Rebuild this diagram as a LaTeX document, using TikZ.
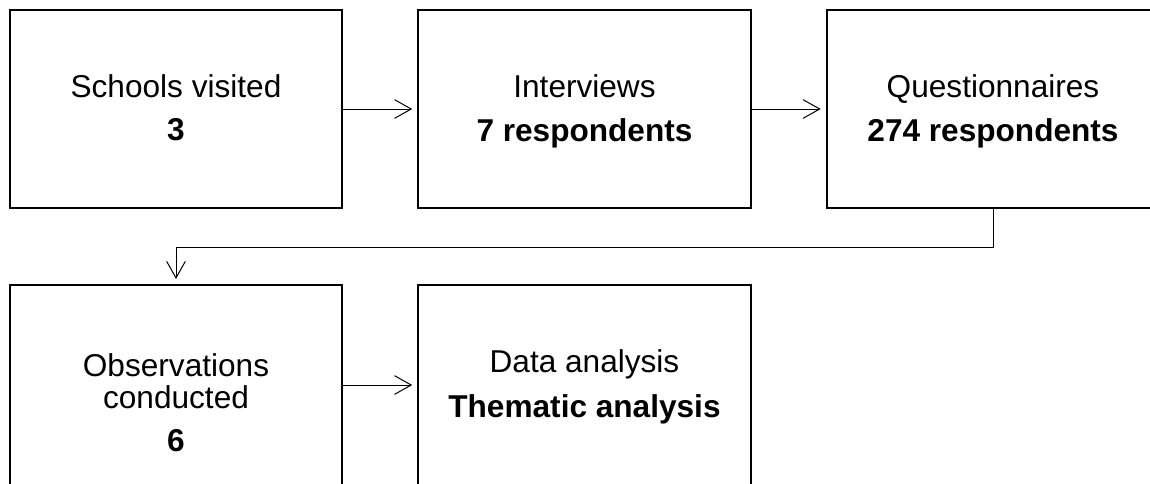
\documentclass[tikz,border=0pt]{standalone}
\usepackage{fontspec}
\setmainfont{Liberation Sans}
\usetikzlibrary{arrows.meta}
\begin{document}
\begin{tikzpicture}[x=0.75pt,y=-0.75pt,
  stepbox/.style={draw,line width=1.5pt,minimum width=249.4pt,inner sep=0pt,outer sep=0pt},
  topbox/.style={stepbox,minimum height=148.5pt},
  botbox/.style={stepbox,minimum height=150pt},
  lab/.style={anchor=base,inner sep=0pt,font=\fontsize{23.7pt}{28pt}\selectfont},
  blab/.style={lab,font=\fontsize{23.7pt}{28pt}\selectfont\bfseries},
  arr/.style={-{Straight Barb[length=12.5pt,width=14pt]},line width=0.75pt,shorten >=4.5pt}]
\useasboundingbox (0,0) rectangle (1150,483);
\clip (0,0) rectangle (1150,483);
\node[topbox] (b1) at (176,109) {};
\node[topbox] (b2) at (584.5,109) {};
\node[topbox] (b3) at (993,109) {};
\node[botbox] (b4) at (176,385) {};
\node[botbox] (b5) at (584.5,385) {};
\node[lab] (t1a) at (176,97) {Schools visited};
\node[blab] (t1b) at (176,140.5) {3};
\node[lab] (t2a) at (584.5,97) {Interviews};
\node[blab] (t2b) at (584.5,141.7) {7 respondents};
\node[lab] (t3a) at (993,97) {Questionnaires};
\node[blab] (t3b) at (993,141.7) {274 respondents};
\node[lab] (t4a) at (176,376) {Observations};
\node[lab] (t4b) at (176,408.3) {conducted};
\node[blab] (t4c) at (176,451.7) {6};
\node[lab] (t5a) at (584.5,372) {Data analysis};
\node[blab] (t5b) at (584.5,417) {Thematic analysis};
\draw[arr] (b1.east) -- (b2.west);
\draw[arr] (b2.east) -- (b3.west);
\draw[arr] (b3.south) -- ++(0,39) -| (b4.north);
\draw[arr] (b4.east) -- (b5.west);
\end{tikzpicture}
\end{document}
